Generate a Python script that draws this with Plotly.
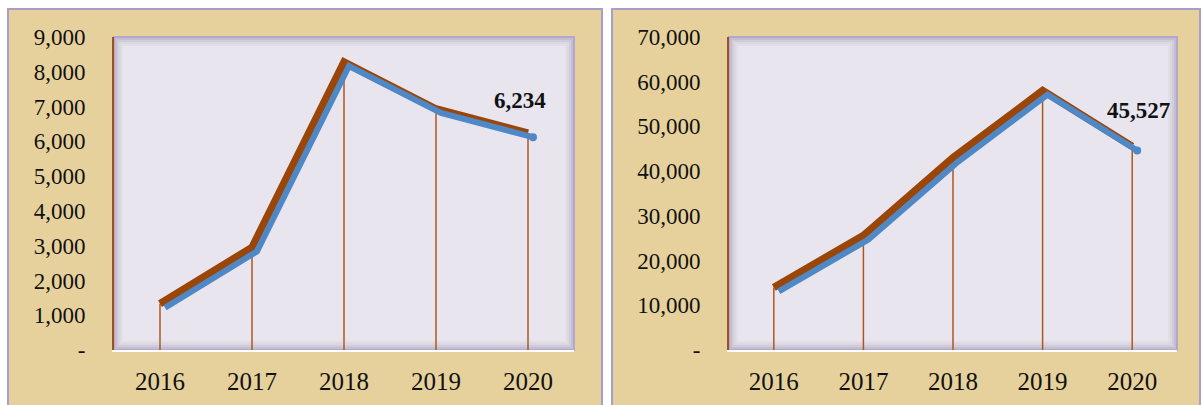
import plotly.graph_objects as go

# Datos
anios = ["2016", "2017", "2018", "2019", "2020"]
serie_izq = [1330, 2950, 8280, 6930, 6234]
serie_der = [14000, 25600, 43000, 58000, 45527]

ticks_izq = [0, 1000, 2000, 3000, 4000, 5000, 6000, 7000, 8000, 9000]
ticks_der = [0, 10000, 20000, 30000, 40000, 50000, 60000, 70000]

W, H = 1202, 405
MARRON = "#9a4609"
AZUL = "#4f88c6"
FUENTE = "Liberation Serif"


def px_x(v):
    return v / W


def px_y(v):
    return 1 - v / H


def etiquetas(vals):
    return ["-" if v == 0 else f"{v:,}" for v in vals]


fig = go.Figure()

paneles = [
    dict(x="x", y="y", xs="x3", ys="y3", datos=serie_izq, ticks=ticks_izq,
         left=114, right=574, frame=(8, 602), shift=(-8, 33)),
    dict(x="x2", y="y2", xs="x4", ys="y4", datos=serie_der, ticks=ticks_der,
         left=729, right=1177, frame=(612, 1200), shift=(6, 36)),
]

top, bottom = 37, 350
shapes = []

for p in paneles:
    # marco de papiro
    shapes.append(dict(type="rect", xref="paper", yref="paper", layer="below",
                       x0=px_x(p["frame"][0]), x1=px_x(p["frame"][1]), y0=-0.05, y1=px_y(9),
                       fillcolor="#e6d19c", line=dict(color="#ab9cc9", width=2)))
    # area del grafico
    shapes.append(dict(type="rect", xref="paper", yref="paper", layer="below",
                       x0=px_x(p["left"]), x1=px_x(p["right"]), y0=px_y(bottom), y1=px_y(top),
                       fillcolor="#e8e5ef", line=dict(color="#b4a6d2", width=2)))
    # sombra interior
    for i, a in enumerate([0.22, 0.14, 0.08, 0.04]):
        d = 2 + i * 2
        shapes.append(dict(type="rect", xref="paper", yref="paper", layer="below",
                           x0=px_x(p["left"] + d), x1=px_x(p["right"] - d),
                           y0=px_y(bottom - d), y1=px_y(top + d),
                           fillcolor="rgba(0,0,0,0)",
                           line=dict(color=f"rgba(70,60,85,{a})", width=2)))

    # lineas de caida hasta el eje
    fig.add_trace(go.Scatter(
        x=anios, y=p["datos"], xaxis=p["x"], yaxis=p["y"], mode="markers",
        marker=dict(size=1, opacity=0),
        error_y=dict(type="data", symmetric=False, array=[0] * len(p["datos"]),
                     arrayminus=p["datos"], color="#b0561c", thickness=1.5, width=0),
        showlegend=False, hoverinfo="skip"))
    # sombra azul
    fig.add_trace(go.Scatter(
        x=anios, y=p["datos"], xaxis=p["xs"], yaxis=p["ys"], mode="lines",
        line=dict(color=AZUL, width=6), showlegend=False, hoverinfo="skip"))
    fig.add_trace(go.Scatter(
        x=[anios[-1]], y=[p["datos"][-1]], xaxis=p["xs"], yaxis=p["ys"], mode="markers",
        marker=dict(color=AZUL, size=8), showlegend=False, hoverinfo="skip"))
    # linea principal
    fig.add_trace(go.Scatter(
        x=anios, y=p["datos"], xaxis=p["x"], yaxis=p["y"], mode="lines",
        line=dict(color=MARRON, width=7.5), showlegend=False))

    # etiqueta del ultimo valor (indice de categoria)
    fig.add_annotation(x=len(anios) - 1, y=p["datos"][-1], xref=p["x"], yref=p["y"],
                       text=f"<b>{p['datos'][-1]:,}</b>", showarrow=False,
                       xshift=p["shift"][0], yshift=p["shift"][1],
                       font=dict(family=FUENTE, size=23, color="#111"))

dom_y = [px_y(bottom), px_y(top)]
off_x = 5 / W
off_y = 4 / H

for i, p in enumerate(paneles):
    dom_x = [px_x(p["left"]), px_x(p["right"])]
    ymax = p["ticks"][-1]
    xa = dict(domain=dom_x, type="category", range=[-0.5, 4.5], showgrid=False,
              showline=True, linecolor="white", linewidth=2, ticks="", automargin=False,
              tickfont=dict(family=FUENTE, size=25, color="#111"), ticklabelstandoff=8)
    ya = dict(domain=dom_y, range=[0, ymax], showgrid=False, zeroline=False,
              showline=True, linecolor="#a0521d", linewidth=2, ticks="", automargin=False,
              tickvals=p["ticks"], ticktext=etiquetas(p["ticks"]),
              tickfont=dict(family=FUENTE, size=23, color="#111"), ticklabelstandoff=22)
    xs = dict(domain=[dom_x[0] + off_x, dom_x[1] + off_x], type="category", range=[-0.5, 4.5],
              visible=False, automargin=False)
    ys = dict(domain=[dom_y[0] - off_y, dom_y[1] - off_y], range=[0, ymax], visible=False,
              automargin=False)
    n = "" if i == 0 else "2"
    ns = "3" if i == 0 else "4"
    fig.update_layout(**{
        f"xaxis{n}": dict(xa, anchor=f"y{n}"),
        f"yaxis{n}": dict(ya, anchor=f"x{n}"),
        f"xaxis{ns}": dict(xs, anchor=f"y{ns}"),
        f"yaxis{ns}": dict(ys, anchor=f"x{ns}"),
    })

fig.update_layout(
    width=W, height=H,
    margin=dict(l=0, r=0, t=0, b=0, pad=0),
    paper_bgcolor="white",
    plot_bgcolor="rgba(0,0,0,0)",
    shapes=shapes,
    showlegend=False,
)

fig.write_html("out.html", config={"displayModeBar": False},
               post_script="document.body.style.margin='0';")
